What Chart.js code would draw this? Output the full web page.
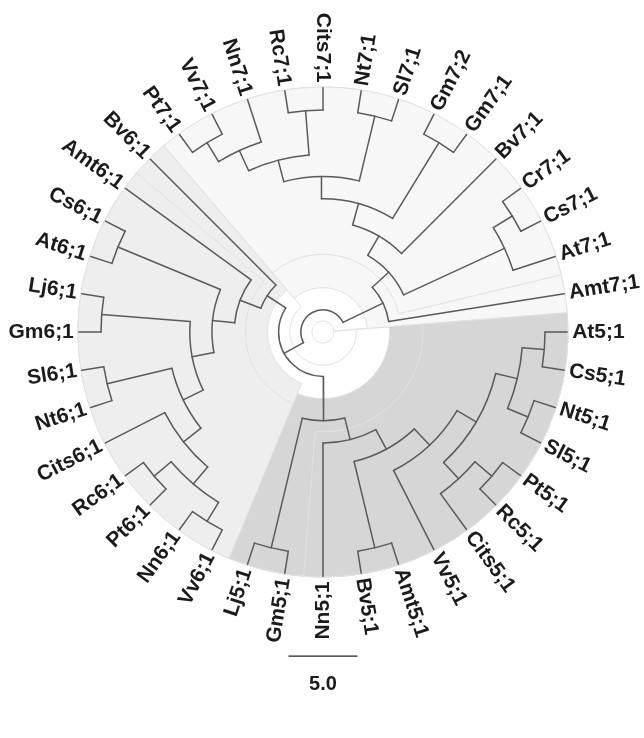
<!DOCTYPE html>
<html>
<head>
<meta charset="utf-8">
<script src="https://cdn.jsdelivr.net/npm/chart.js@4.4.0/dist/chart.umd.min.js"></script>
<style>
  html, body { margin: 0; padding: 0; background: #fff; }
  #wrap { width: 644px; height: 738px; }
</style>
</head>
<body>
<div id="wrap"><canvas id="tree" width="644" height="738"></canvas></div>
<script>
// topology, leaves listed counter-clockwise (Amt7;1 first, At5;1 last)
const group7 = ["Amt7;1", [["At7;1", ["Cs7;1", "Cr7;1"]],
  ["Bv7;1", [["Gm7;1", "Gm7;2"], [["Sl7;1", "Nt7;1"], [["Cits7;1", "Rc7;1"], ["Nn7;1", ["Vv7;1", "Pt7;1"]]]]]]]];
const group6 = ["Bv6;1", ["Amt6;1", [["Cs6;1", "At6;1"],
  [["Lj6;1", "Gm6;1"], [["Sl6;1", "Nt6;1"], ["Cits6;1", [["Rc6;1", "Pt6;1"], ["Nn6;1", "Vv6;1"]]]]]]]];
const group5 = [["Lj5;1", "Gm5;1"], ["Nn5;1", [["Bv5;1", "Amt5;1"],
  ["Vv5;1", [["Cits5;1", ["Rc5;1", "Pt5;1"]], [["Sl5;1", "Nt5;1"], ["Cs5;1", "At5;1"]]]]]]];
const treeTopology = [group7, [group6, group5]];

// shaded clades, given by their first and last leaf
const highlightFirst = ["Amt7;1", "Bv6;1", "Amt7;1", "At7;1", "Bv6;1", "Amt6;1", "Lj5;1", "Nn5;1"];
const highlightLast  = ["At5;1", "At5;1", "Pt7;1", "Pt7;1", "Vv6;1", "Vv6;1", "At5;1", "At5;1"];

const scaleBarValue = 5.0;
const scaleBarLabel = "5.0";

// layout / style
const FIRST_ANGLE = 9, ANGLE_STEP = 9;   // degrees between tips
const TIP_LEVEL = 11;                    // cladogram: tips aligned
const UNITS_PER_LEVEL = 1.609;           // tree units per cladogram step
const PX = 22.2;                         // pixels per step
const highlightShade = ["#ffffff", "#ffffff", "#f7f7f7", "#f7f7f7", "#eeeeee", "#eeeeee", "#d6d6d6", "#d6d6d6"];
const EDGE = "#e2e2e2";
const BRANCH = "#5a5a5a";
const LABEL_FONT = 'bold 21px "Liberation Sans", Arial, sans-serif';

// build tree
let leafCount = 0;
const allNodes = [];
function build(item, parent) {
  const node = {parent: parent, children: []};
  if (typeof item === "string") {
    node.name = item;
    node.angle = FIRST_ANGLE + ANGLE_STEP * leafCount++;
    node.height = 0;
    node.first = node.last = item;
  } else {
    node.children = item.map(c => build(c, node));
    node.height = 1 + Math.max(...node.children.map(c => c.height));
    node.angle = (node.children[0].angle + node.children[node.children.length - 1].angle) / 2;
    node.first = node.children[0].first;
    node.last = node.children[node.children.length - 1].last;
  }
  allNodes.push(node);
  return node;
}
const root = build(treeTopology, null);
allNodes.forEach(n => n.r = TIP_LEVEL - n.height);
const leaves = allNodes.filter(n => n.name);
const leafByName = {};
leaves.forEach(l => leafByName[l.name] = l);

const rad = d => d * Math.PI / 180;
const polar = (r, a) => ({x: r * Math.cos(rad(a)), y: r * Math.sin(rad(a))});

// radial branches as datasets
const datasets = allNodes.filter(n => n.parent).map(n => ({
  data: [polar(n.parent.r, n.angle), polar(n.r, n.angle)],
  showLine: true,
  borderColor: BRANCH,
  borderWidth: 1.5,
  borderCapStyle: "round",
  pointRadius: 0
}));

const treePlugin = {
  id: "treeDecor",
  beforeDatasetsDraw(chart) {
    const {ctx, scales: {x, y}} = chart;
    const cx = x.getPixelForValue(0), cy = y.getPixelForValue(0);
    const unit = x.getPixelForValue(1) - cx;
    ctx.save();
    // clade highlights
    highlightFirst.forEach((f, i) => {
      const node = allNodes.find(n => n.first === f && n.last === highlightLast[i]);
      const rIn = (node.r + (node.parent ? node.parent.r : 0)) / 2 * unit;
      const rOut = (TIP_LEVEL + 0.04) * unit;
      const a0 = rad(leafByName[f].angle - ANGLE_STEP / 2);
      const a1 = rad(leafByName[highlightLast[i]].angle + ANGLE_STEP / 2);
      ctx.beginPath();
      ctx.arc(cx, cy, rOut, -a1, -a0, false);
      ctx.arc(cx, cy, rIn, -a0, -a1, true);
      ctx.closePath();
      ctx.fillStyle = highlightShade[i];
      ctx.fill();
      ctx.strokeStyle = EDGE;
      ctx.lineWidth = 1;
      ctx.stroke();
    });
    // arcs joining the children of each node
    ctx.strokeStyle = BRANCH;
    ctx.lineWidth = 1.5;
    ctx.lineCap = "round";
    allNodes.filter(n => n.children.length).forEach(n => {
      const a0 = rad(n.children[0].angle), a1 = rad(n.children[n.children.length - 1].angle);
      ctx.beginPath();
      ctx.arc(cx, cy, n.r * unit, -a1, -a0, false);
      ctx.stroke();
    });
    ctx.restore();
  },
  afterDatasetsDraw(chart) {
    const {ctx, scales: {x, y}} = chart;
    const cx = x.getPixelForValue(0), cy = y.getPixelForValue(0);
    const unit = x.getPixelForValue(1) - cx;
    ctx.save();
    ctx.font = LABEL_FONT;
    ctx.fillStyle = "#1b1b1b";
    ctx.textBaseline = "middle";
    const rr = TIP_LEVEL * unit + 5;
    leaves.forEach(l => {
      ctx.save();
      ctx.translate(cx, cy);
      if (l.angle < 90 || l.angle > 270) {
        ctx.rotate(-rad(l.angle));
        ctx.textAlign = "left";
        ctx.fillText(l.name, rr, 0);
      } else {
        ctx.rotate(-rad(l.angle) + Math.PI);
        ctx.textAlign = "right";
        ctx.fillText(l.name, -rr, 0);
      }
      ctx.restore();
    });
    // scale bar
    const half = scaleBarValue / UNITS_PER_LEVEL / 2;
    const by = y.getPixelForValue(-14.6);
    ctx.beginPath();
    ctx.moveTo(x.getPixelForValue(-half), by);
    ctx.lineTo(x.getPixelForValue(half), by);
    ctx.strokeStyle = "#222";
    ctx.lineWidth = 1.2;
    ctx.stroke();
    ctx.textAlign = "center";
    ctx.textBaseline = "alphabetic";
    ctx.font = 'bold 20px "Liberation Sans", Arial, sans-serif';
    ctx.fillText(scaleBarLabel, cx, by + 34);
    ctx.restore();
  }
};

new Chart(document.getElementById("tree"), {
  type: "scatter",
  data: {datasets},
  options: {
    responsive: false,
    animation: false,
    events: [],
    layout: {padding: 0},
    plugins: {legend: {display: false}, tooltip: {enabled: false}},
    scales: {
      x: {type: "linear", display: false, min: -323 / PX, max: 321 / PX},
      y: {type: "linear", display: false, min: -406 / PX, max: 332 / PX}
    }
  },
  plugins: [treePlugin]
});
</script>
</body>
</html>
